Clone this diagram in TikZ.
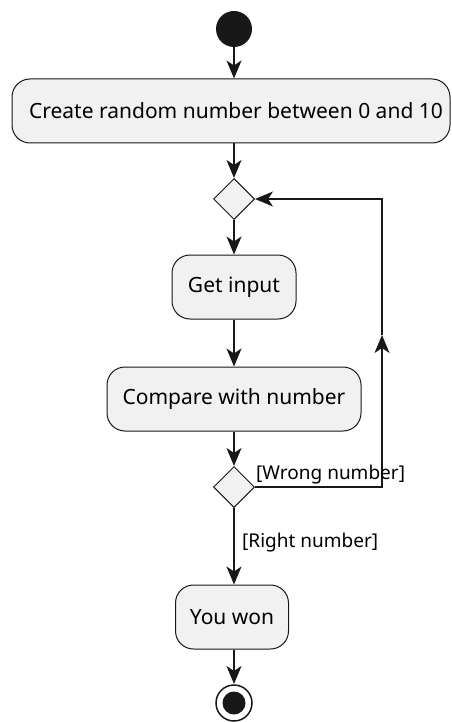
\documentclass[tikz,border=0pt]{standalone}
\usepackage{fontspec}
\setmainfont{Noto Sans}
\usetikzlibrary{arrows.meta}
\usetikzlibrary{positioning}
\usetikzlibrary{shapes.geometric}

\definecolor{boxfill}{HTML}{F1F1F1}
\definecolor{linecol}{HTML}{181818}

\begin{document}
\begin{tikzpicture}[x=1pt, y=-1pt,
    activity/.style={draw=linecol, fill=boxfill, line width=1pt, rounded corners=18pt,
        minimum height=64pt, inner sep=0pt, font=\fontsize{21}{25}\selectfont},
    branch/.style={draw=linecol, fill=boxfill, line width=1pt, diamond, aspect=1,
        minimum width=41pt, minimum height=41pt, inner sep=0pt},
    flow/.style={draw=linecol, line width=1.5pt,
        -{Stealth[length=18pt, width=15pt, inset=5pt]}},
    guard/.style={font=\fontsize{19}{23}\selectfont, inner sep=0pt}]

    \useasboundingbox (0,0) rectangle (451,722);

    % Draw start and end
    \fill [linecol] (234,29) circle [radius=18];
    \coordinate (start) at (234,47);
    \draw [linecol, line width=1.5pt] (234,703) circle [radius=18];
    \fill [linecol] (234,703) circle [radius=11.5];
    \coordinate (stop) at (234,684);

    % Draw activities
    \node [activity, minimum width=438pt] (create) at (231,111) {\hspace*{10pt}Create random number between 0 and 10};
    \node [branch] (loop) at (234,199) {};
    \node [activity, minimum width=124pt] (input) at (234,287) {Get input};
    \node [activity, minimum width=254pt] (compare) at (234,399) {Compare with number};
    \node [branch] (check) at (234,487) {};
    \node [activity, minimum width=113pt] (won) at (232,617) {You won};

    % Draw arrows
    \draw [flow] (start) -- (create.north -| start);
    \draw [flow] (create.south -| loop) -- (loop.north);
    \draw [flow] (loop.south) -- (input.north);
    \draw [flow] (input.south) -- (compare.north);
    \draw [flow] (compare.south) -- (check.north);
    \draw [flow] (check.south) -- (won.north -| check);
    \draw [flow] (won.south -| check) -- (stop);

    % Draw loop back
    \coordinate (back) at (382,335);
    \draw [flow] (check.east) -| (back);
    \draw [flow] (back) |- (loop.east);

    % Draw guards
    \node [guard, anchor=west] (wrong) at (256,475) {[Wrong number]};
    \node [guard, anchor=west] (right) at (242,543) {[Right number]};

\end{tikzpicture}
\end{document}
